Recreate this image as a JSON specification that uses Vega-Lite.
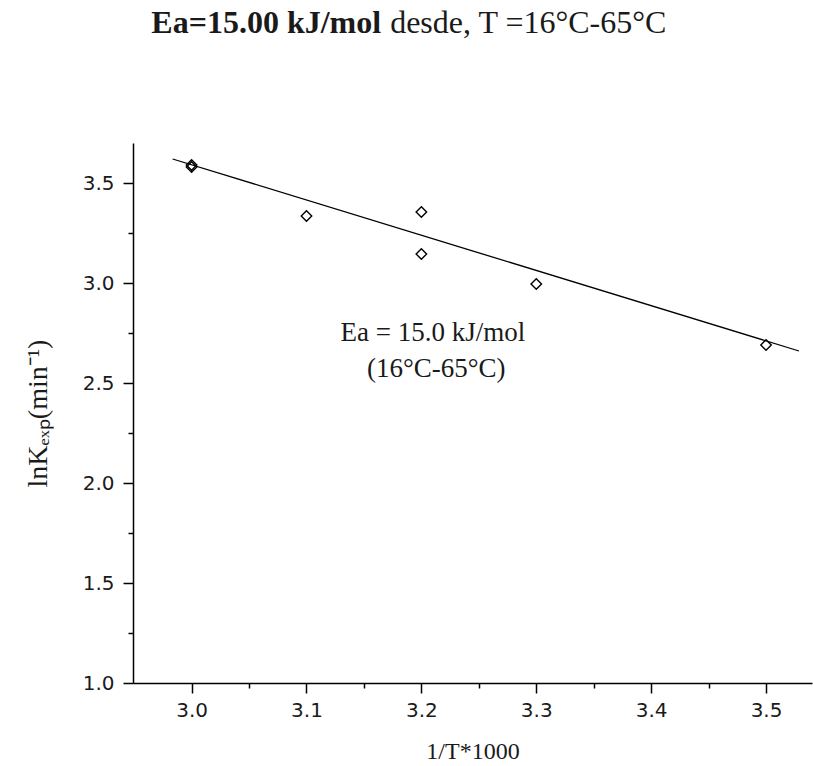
{
  "$schema": "https://vega.github.io/schema/vega-lite/v6.json",
  "autosize": {"type": "none"},
  "width": 679,
  "height": 540,
  "padding": {"left": 133, "top": 143, "right": 1, "bottom": 83},
  "background": "white",
  "config": {"view": {"stroke": null}},
  "datasets": {
    "points": [
      {"invT": 3.0, "lnK": 3.59},
      {"invT": 3.0, "lnK": 3.58},
      {"invT": 3.1, "lnK": 3.335},
      {"invT": 3.2, "lnK": 3.355},
      {"invT": 3.2, "lnK": 3.145},
      {"invT": 3.3, "lnK": 2.995},
      {"invT": 3.5, "lnK": 2.69}
    ],
    "fit": [
      {"invT": 2.9835, "lnK": 3.62},
      {"invT": 3.5287, "lnK": 2.66}
    ],
    "note": [
      {"invT": 3.21, "lnK": 2.75, "label": "Ea = 15.0 kJ/mol"},
      {"invT": 3.213, "lnK": 2.57, "label": "(16°C-65°C)"}
    ],
    "titleBold": [{"invT": 3.165, "lnK": 4.30, "label": "Ea=15.00 kJ/mol"}],
    "titleNormal": [{"invT": 3.165, "lnK": 4.30, "label": "desde, T =16°C-65°C"}]
  },
  "layer": [
    {
      "data": {"name": "fit"},
      "mark": {"type": "line", "color": "black", "strokeWidth": 1.3},
      "encoding": {
        "x": {"field": "invT", "type": "quantitative",
          "scale": {"domain": [2.949, 3.54], "nice": false, "zero": false},
          "axis": {"values": [3.0, 3.05, 3.1, 3.15, 3.2, 3.25, 3.3, 3.35, 3.4, 3.45, 3.5], 
            "labelExpr": "abs(datum.value*10 - round(datum.value*10)) > 0.01 ? '' : format(datum.value, '.1f')",
            "grid": false,
            "domainColor": "black", "domainWidth": 1.5, "tickColor": "black", "tickWidth": 1.5,
            "tickSize": {"condition": {"test": "abs(datum.value*10 - round(datum.value*10)) > 0.01", "value": 5}, "value": 10},
            "labelFont": "DejaVu Sans", "labelFontSize": 20, "labelColor": "#1a1a1a", "labelPadding": 7, "labelOverlap": false, "labelFlush": false,
            "title": "1/T*1000", "titleFont": "Liberation Serif", "titleFontSize": 24, "titleFontWeight": "normal", "titleColor": "#1a1a1a", "titlePadding": 19}},
        "y": {"field": "lnK", "type": "quantitative",
          "scale": {"domain": [1.0, 3.7], "nice": false, "zero": false},
          "axis": {"values": [1.0, 1.25, 1.5, 1.75, 2.0, 2.25, 2.5, 2.75, 3.0, 3.25, 3.5],
            "labelExpr": "abs(datum.value*2 - round(datum.value*2)) > 0.01 ? '' : format(datum.value, '.1f')",
            "grid": false,
            "domainColor": "black", "domainWidth": 1.5, "tickColor": "black", "tickWidth": 1.5,
            "tickSize": {"condition": {"test": "abs(datum.value*2 - round(datum.value*2)) > 0.01", "value": 5}, "value": 10},
            "labelFont": "DejaVu Sans", "labelFontSize": 20, "labelColor": "#1a1a1a", "labelPadding": 9, "labelOverlap": false, "labelFlush": false,
            "title": "lnKₑₓₚ(min⁻¹)", "titleFont": "Liberation Serif", "titleFontSize": 28, "titleFontWeight": "normal", "titleColor": "#1a1a1a", "titlePadding": 30}}
      }
    },
    {
      "data": {"name": "points"},
      "mark": {"type": "point", "shape": "diamond", "size": 110, "filled": false, "stroke": "black", "strokeWidth": 1.4, "opacity": 1},
      "encoding": {
        "x": {"field": "invT", "type": "quantitative"},
        "y": {"field": "lnK", "type": "quantitative"}
      }
    },
    {
      "data": {"name": "note"},
      "mark": {"type": "text", "font": "Liberation Serif", "fontSize": 27, "color": "#1a1a1a", "align": "center", "baseline": "middle"},
      "encoding": {
        "x": {"field": "invT", "type": "quantitative"},
        "y": {"field": "lnK", "type": "quantitative"},
        "text": {"field": "label"}
      }
    },
    {
      "data": {"name": "titleBold"},
      "mark": {"type": "text", "font": "Liberation Serif", "fontSize": 32, "fontWeight": "bold", "color": "#1a1a1a", "align": "right", "baseline": "middle", "clip": false},
      "encoding": {
        "x": {"field": "invT", "type": "quantitative"},
        "y": {"field": "lnK", "type": "quantitative"},
        "text": {"field": "label"}
      }
    },
    {
      "data": {"name": "titleNormal"},
      "mark": {"type": "text", "font": "Liberation Serif", "fontSize": 32, "color": "#1a1a1a", "align": "left", "baseline": "middle", "dx": 9, "clip": false},
      "encoding": {
        "x": {"field": "invT", "type": "quantitative"},
        "y": {"field": "lnK", "type": "quantitative"},
        "text": {"field": "label"}
      }
    }
  ]
}
